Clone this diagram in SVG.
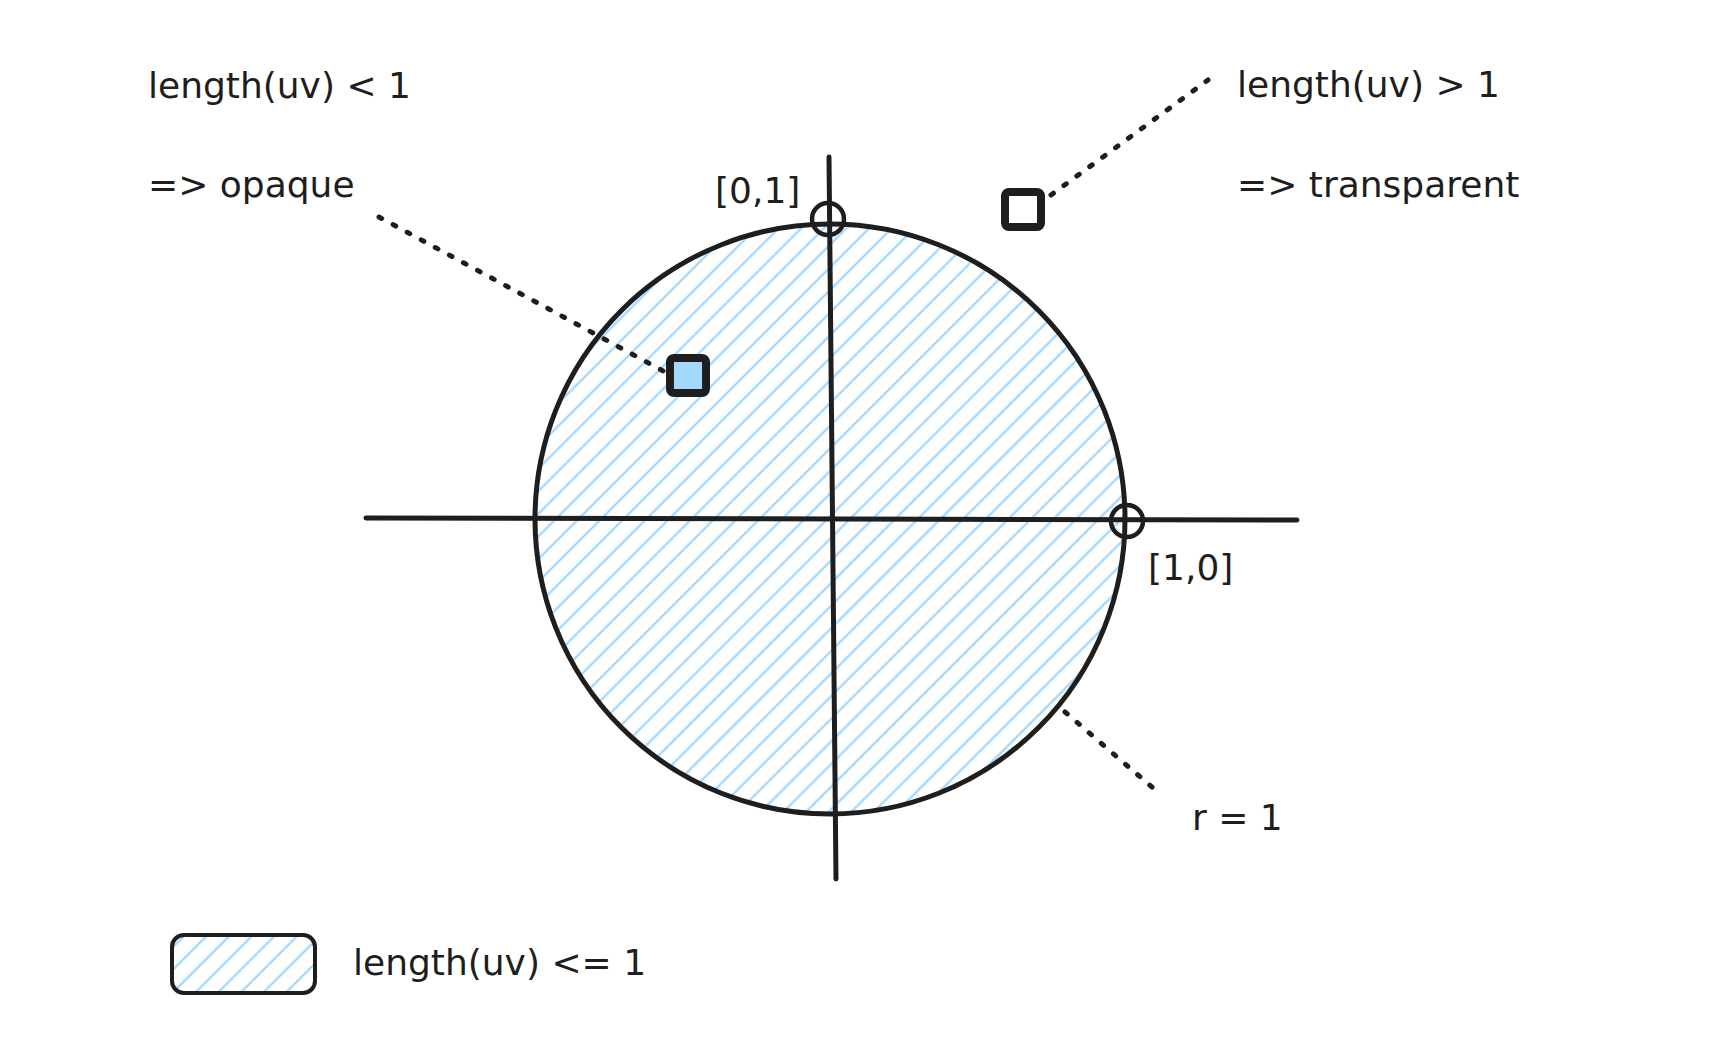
<svg xmlns="http://www.w3.org/2000/svg" width="1722" height="1048" viewBox="0 0 1722 1048">
<style>
.t{font-family:"DejaVu Sans","Liberation Sans",sans-serif;font-size:36px;fill:#1e1e1e}
.ln{stroke:#1e1e1e;stroke-linecap:round;stroke-linejoin:round}
.dot{stroke:#1e1e1e;fill:none;stroke-width:5;stroke-linecap:round;stroke-dasharray:3 13}
</style>
<defs>
<pattern id="hatch" patternUnits="userSpaceOnUse" width="20" height="16" patternTransform="rotate(-45)">
<line x1="0" y1="8" x2="20" y2="8" stroke="#a5d8ff" stroke-width="2.4"/>
</pattern>
</defs>
<rect width="1722" height="1048" fill="#ffffff"/>
<g id="circle">
<circle cx="830" cy="519" r="295" fill="url(#hatch)" class="ln" stroke-width="5"/>
</g>
<g id="axes">
<line x1="366" y1="518" x2="1297" y2="520" class="ln" stroke-width="5"/>
<line x1="829" y1="157" x2="836" y2="879" class="ln" stroke-width="5"/>
</g>
<g id="point-01">
<circle cx="828" cy="219" r="16" fill="none" class="ln" stroke-width="4.5"/>
<text class="t" x="715" y="203">[0,1]</text>
</g>
<g id="point-10">
<circle cx="1127" cy="521" r="16" fill="none" class="ln" stroke-width="4.5"/>
<text class="t" x="1148" y="580">[1,0]</text>
</g>
<g id="sq-opaque">
<rect x="670" y="358" width="36" height="35" rx="4" fill="#a5d8ff" class="ln" stroke-width="8"/>
</g>
<g id="sq-transparent">
<rect x="1005" y="192" width="36" height="35" rx="4" fill="#ffffff" class="ln" stroke-width="8"/>
</g>
<g id="connectors">
<line x1="379" y1="217" x2="665" y2="372" class="dot"/>
<line x1="1051" y1="195" x2="1208" y2="80" class="dot"/>
<line x1="1065" y1="712" x2="1153" y2="788" class="dot"/>
</g>
<g id="labels">
<text class="t" x="148" y="98">length(uv) &lt; 1</text>
<text class="t" x="148" y="197">=&gt; opaque</text>
<text class="t" x="1237" y="97">length(uv) &gt; 1</text>
<text class="t" x="1237" y="197">=&gt; transparent</text>
<text class="t" x="1192" y="830">r = 1</text>
</g>
<g id="legend">
<rect x="172" y="935" width="143" height="58" rx="12" fill="url(#hatch)" class="ln" stroke-width="4"/>
<text class="t" x="353" y="975">length(uv) &lt;= 1</text>
</g>
</svg>
